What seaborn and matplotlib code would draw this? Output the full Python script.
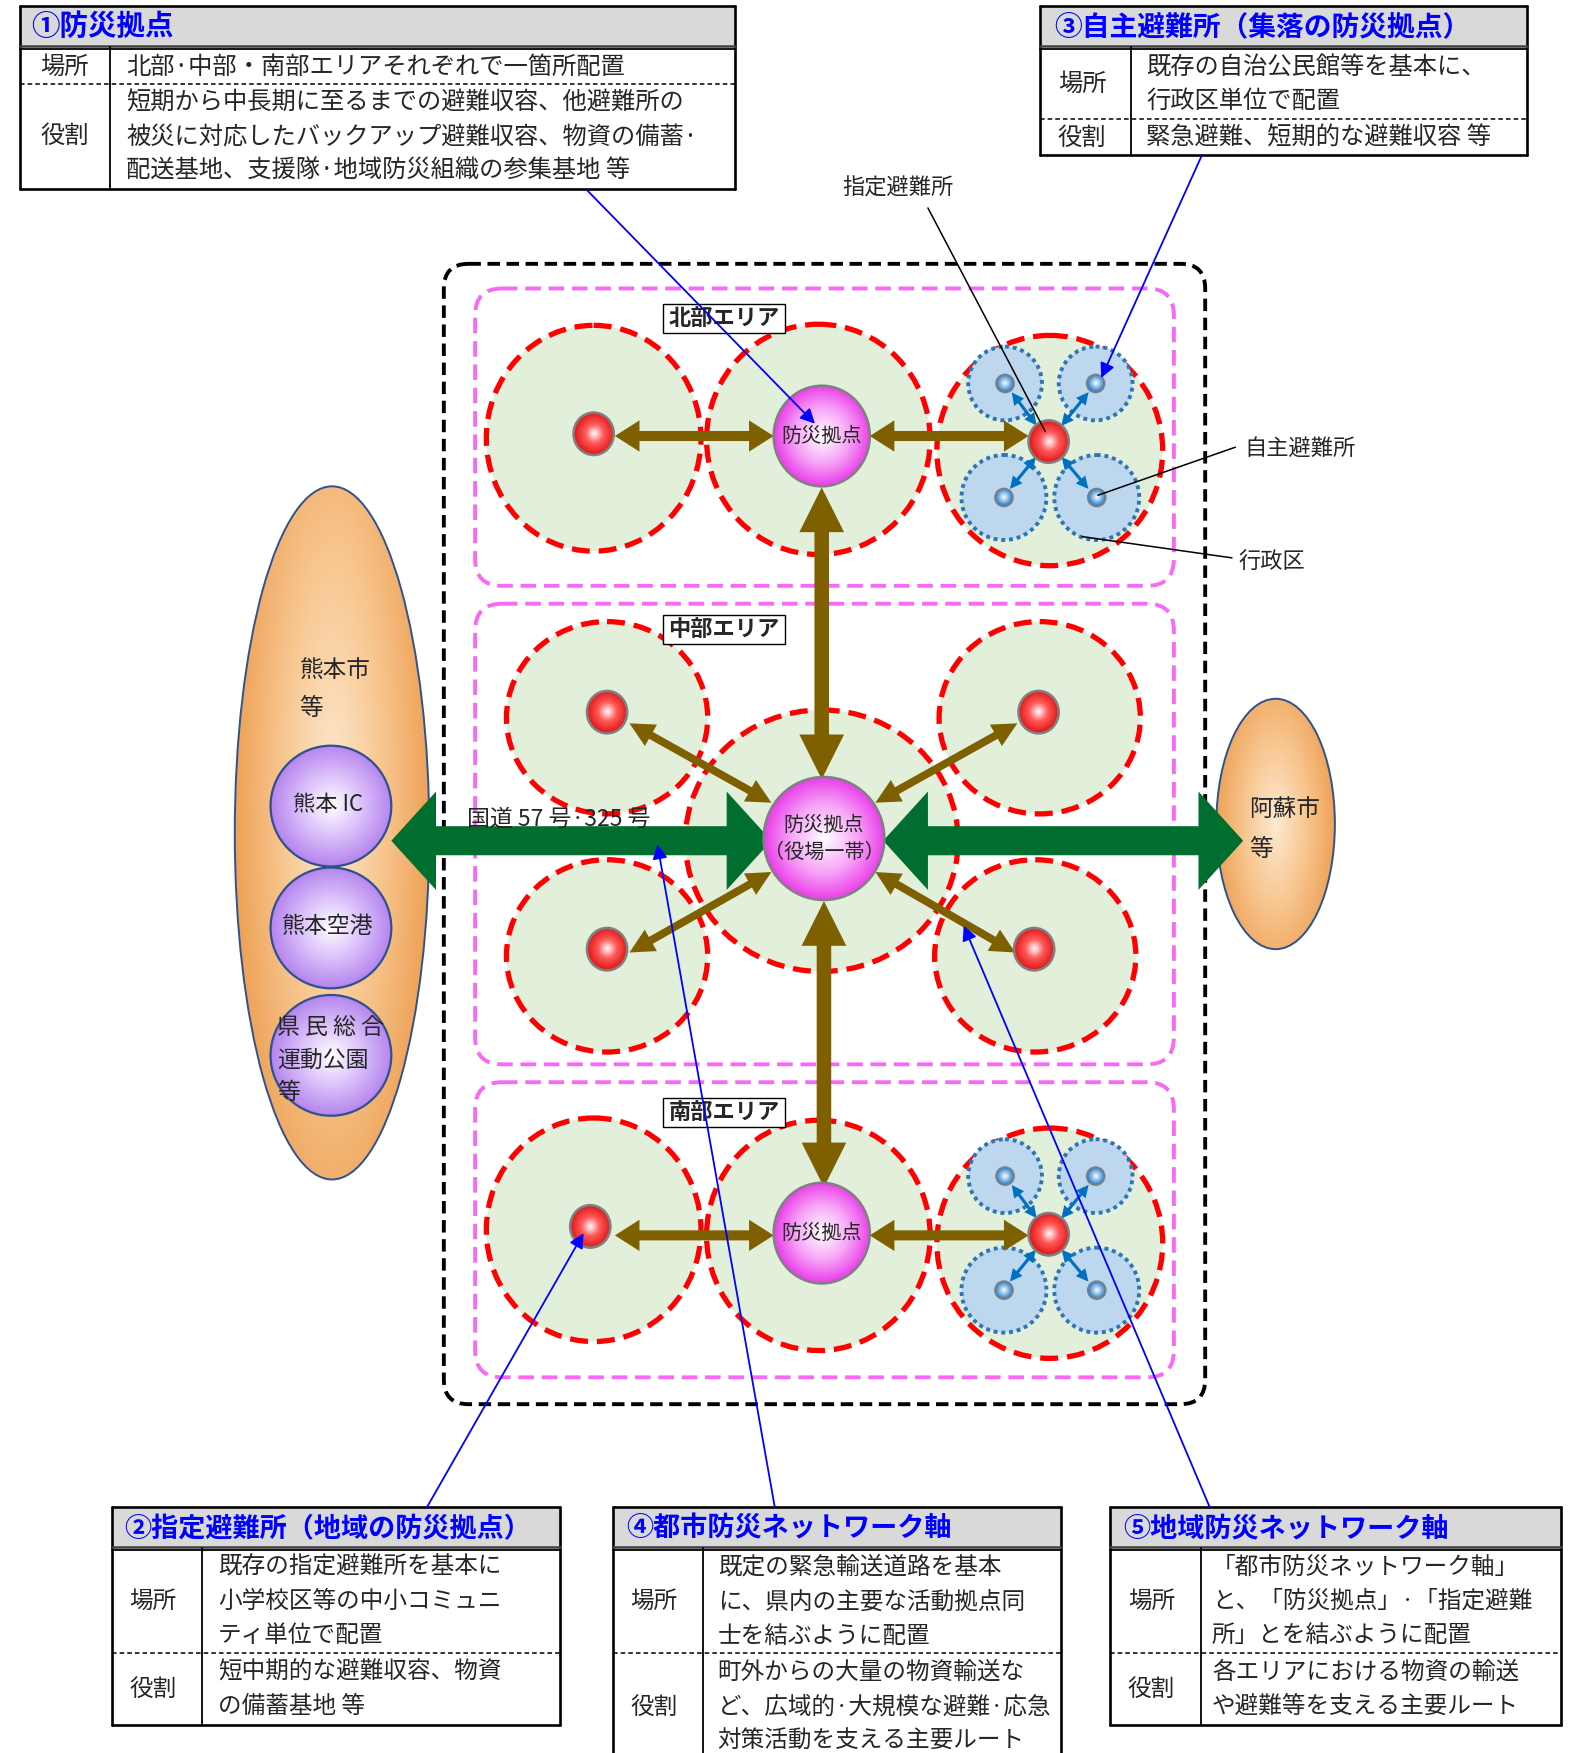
import numpy as np
import pandas as pd
import seaborn as sns
import matplotlib
matplotlib.use("Agg")
import matplotlib.pyplot as plt
from matplotlib.patches import Ellipse, Rectangle, FancyBboxPatch, Polygon
from matplotlib.colors import to_rgb

# ---------------- text content ----------------
t1_title = "①防災拠点"
t1_labels = ["場所", "役割"]
t1_place = ["北部·中部・南部エリアそれぞれで一箇所配置"]
t1_role = ["短期から中長期に至るまでの避難収容、他避難所の",
           "被災に対応したバックアップ避難収容、物資の備蓄·",
           "配送基地、支援隊·地域防災組織の参集基地 等"]
t3_title = "③自主避難所（集落の防災拠点）"
t3_place = ["既存の自治公民館等を基本に、", "行政区単位で配置"]
t3_role = ["緊急避難、短期的な避難収容 等"]
t2_title = "②指定避難所（地域の防災拠点）"
t2_place = ["既存の指定避難所を基本に", "小学校区等の中小コミュニ", "ティ単位で配置"]
t2_role = ["短中期的な避難収容、物資", "の備蓄基地 等"]
t4_title = "④都市防災ネットワーク軸"
t4_place = ["既定の緊急輸送道路を基本", "に、県内の主要な活動拠点同", "士を結ぶように配置"]
t4_role = ["町外からの大量の物資輸送な", "ど、広域的·大規模な避難·応急", "対策活動を支える主要ルート"]
t5_title = "⑤地域防災ネットワーク軸"
t5_place = ["「都市防災ネットワーク軸」", "と、「防災拠点」·「指定避難", "所」とを結ぶように配置"]
t5_role = ["各エリアにおける物資の輸送", "や避難等を支える主要ルート"]
area_names = ["北部エリア", "中部エリア", "南部エリア"]
hub_label = "防災拠点"
hub_center_label = ["防災拠点", "（役場一帯）"]
left_city = ["熊本市", "等"]
left_sites = ["熊本 IC", "熊本空港", "県 民 総 合\n運動公園\n等"]
right_city = ["阿蘇市", "等"]
road_label = "国道 57 号·325 号"
callouts = ["指定避難所", "自主避難所", "行政区"]

sns.set_theme(style="white")
plt.rcParams["font.family"] = ["Noto Sans CJK JP", "DejaVu Sans"]

W, H = 1407, 1568
fig = plt.figure(figsize=(15.73, 17.53), dpi=100)
ax = fig.add_axes([0, 0, 1, 1])
ax.axis("off")


def grad(cx, cy, rx, ry, stops, cols, ec, lw, z, hy=0.0, sy=1.0):
    n = 160
    xs = np.linspace(-1, 1, n)
    X, Y = np.meshgrid(xs, xs)
    R = np.clip(np.sqrt(X ** 2 + (sy * (Y - hy)) ** 2), 0, 1)
    rgb = np.array([to_rgb(c) for c in cols])
    img = np.stack([np.interp(R, stops, rgb[:, k]) for k in range(3)], axis=-1)
    im = ax.imshow(img, extent=(cx - rx, cx + rx, cy + ry, cy - ry), origin="upper",
                   zorder=z, aspect="auto", interpolation="bilinear")
    e = Ellipse((cx, cy), 2 * rx, 2 * ry, fc="none", ec=ec, lw=lw, zorder=z + 0.01)
    ax.add_patch(e)
    im.set_clip_path(e)


def red_ball(cx, cy, rx=18, ry=19, z=7):
    grad(cx, cy, rx, ry, [0, 0.45, 1], ["#ffffff", "#ff5a5a", "#e01515"], "#808080", 1.8, z)


def pink_ball(cx, cy, rx, ry, z=7):
    grad(cx, cy, rx, ry, [0, 0.55, 1], ["#ffffff", "#f7a6f7", "#ea3fea"], "#808080", 1.8, z)


def blue_ball(cx, cy, r=8, z=7):
    grad(cx, cy, r, r, [0, 1], ["#ffffff", "#1f78c8"], "#7f7f7f", 1.3, z)


def arrow(p0, p1, w, hw, hl, color, z, double=True):
    p0, p1 = np.array(p0, float), np.array(p1, float)
    d = p1 - p0
    L = np.hypot(*d)
    u = d / L
    nr = np.array([-u[1], u[0]])
    b1 = p1 - u * hl
    if double:
        b0 = p0 + u * hl
        pts = [p0, b0 + nr * hw / 2, b0 + nr * w / 2, b1 + nr * w / 2, b1 + nr * hw / 2, p1,
               b1 - nr * hw / 2, b1 - nr * w / 2, b0 - nr * w / 2, b0 - nr * hw / 2]
    else:
        pts = [p0 + nr * w / 2, b1 + nr * w / 2, b1 + nr * hw / 2, p1, b1 - nr * hw / 2,
               b1 - nr * w / 2, p0 - nr * w / 2]
    ax.add_patch(Polygon(pts, closed=True, fc=color, ec="none", zorder=z))


GREEN_FILL = "#e2efda"
RED = "#ff0000"
PINK = "#f66af6"
BROWN = "#7f6000"
DGREEN = "#006e2e"
BLUE_FILL = "#bdd7ee"
BLUE_EDGE = "#2e75b6"
ARROW_BLUE = "#0070c0"

# ---------------- outer frames ----------------
ax.add_patch(FancyBboxPatch((397, 236), 681, 1020, boxstyle="round,pad=0,rounding_size=22",
                            fc="none", ec="black", lw=2.8, ls=(0, (3.2, 1.7)), zorder=1))
for (y0, y1) in [(258, 524), (540, 952), (968, 1232)]:
    ax.add_patch(FancyBboxPatch((425, y0), 625, y1 - y0, boxstyle="round,pad=0,rounding_size=24",
                                fc="none", ec=PINK, lw=2.8, ls=(0, (4, 2)), zorder=1.5))

# ---------------- green service circles ----------------
circles = [(531, 392, 96, 101), (732, 393, 100, 103), (939, 403, 101, 103),
           (543, 642, 90, 86), (930, 642, 90, 86), (735, 752, 122, 117),
           (543, 855, 90, 86), (926, 855, 90, 86),
           (531, 1100, 96, 100), (732, 1105, 100, 103), (939, 1112, 101, 103)]
for cx, cy, rx, ry in circles:
    ax.add_patch(Ellipse((cx, cy), 2 * rx, 2 * ry, fc=GREEN_FILL, ec="none", zorder=2))
for cx, cy, rx, ry in circles:
    ax.add_patch(Ellipse((cx, cy), 2 * rx, 2 * ry, fc="none", ec=RED, lw=3.8,
                         ls=(0, (3.4, 1.7)), zorder=3))

# ---------------- village (行政区) circles ----------------
for base_y in [403, 1112]:
    dy = base_y - 403
    for (bx, by, r) in [(899, 343, 33), (980, 343, 33), (898, 445, 38), (981, 445, 38)]:
        ax.add_patch(Ellipse((bx, by + dy), 2 * r, 2 * r, fc=BLUE_FILL, ec=BLUE_EDGE, lw=2.8,
                             ls=(0, (1, 1)), zorder=4))
        blue_ball(bx, by + dy)
    rx0, ry0 = 938, 395 + dy
    for (bx, by) in [(899, 343), (980, 343), (897, 445), (980, 445)]:
        p_from = np.array([rx0, ry0], float)
        p_to = np.array([bx, by + dy], float)
        v = p_to - p_from
        v = v / np.hypot(*v)
        arrow(p_from + v * 18, p_to - v * 10, 2.8, 11, 11, ARROW_BLUE, 5.5)
    red_ball(rx0, ry0)

# ---------------- brown arrows ----------------
for y in [390, 1105]:
    arrow((550, y), (692, y), 9, 28, 22, BROWN, 5)
    arrow((778, y), (920, y), 9, 28, 22, BROWN, 5)
arrow((735, 436), (735, 697), 13, 40, 40, BROWN, 5)
arrow((737, 806), (737, 1062), 13, 40, 40, BROWN, 5)
for p0, p1 in [((690, 718), (563, 647)), ((783, 718), (910, 647)),
               ((690, 780), (563, 852)), ((783, 780), (908, 852))]:
    arrow(p0, p1, 7, 22, 22, BROWN, 5)

# ---------------- balls ----------------
red_ball(531, 388)
red_ball(528, 1097)
for (cx, cy) in [(543, 637), (929, 637), (543, 849), (925, 849)]:
    red_ball(cx, cy)
pink_ball(735, 390, 43, 45)
pink_ball(735, 1103, 43, 45)
pink_ball(737, 750, 54, 55)
ax.text(735, 390, hub_label, ha="center", va="center", fontsize=14.5, zorder=9)
ax.text(735, 1103, hub_label, ha="center", va="center", fontsize=14.5, zorder=9)
ax.text(737, 738, hub_center_label[0], ha="center", va="center", fontsize=14.5, zorder=9)
ax.text(737, 762, hub_center_label[1], ha="center", va="center", fontsize=14.5, zorder=9)

# ---------------- left / right cities ----------------
grad(297, 745, 87, 310, [0, 0.5, 1], ["#fde9d2", "#f8c892", "#eea257"], "#2f528f", 1.4, 1.2,
     hy=-0.1, sy=0.75)
grad(1141, 737, 53, 112, [0, 0.5, 1], ["#fde9d2", "#f8c892", "#eea257"], "#2f528f", 1.4, 1.2,
     sy=0.8)
ax.text(268, 600, left_city[0], ha="left", va="center", fontsize=17, zorder=9)
ax.text(268, 634, left_city[1], ha="left", va="center", fontsize=17, zorder=9)
ax.text(1117, 724, right_city[0], ha="left", va="center", fontsize=17, zorder=9)
ax.text(1117, 760, right_city[1], ha="left", va="center", fontsize=17, zorder=9)
for (cy, lab) in zip([721, 830, 944], left_sites):
    grad(296, cy, 54, 54, [0, 0.5, 1], ["#ffffff", "#dcc2fa", "#b585ee"], "#2f528f", 1.6, 6)
ax.text(293, 720, left_sites[0], ha="center", va="center", fontsize=16, zorder=9)
ax.text(293, 829, left_sites[1], ha="center", va="center", fontsize=16.5, zorder=9)
for i, line in enumerate(left_sites[2].split("\n")):
    ax.text(248, 919 + 29 * i, line, ha="left", va="center", fontsize=16.5, zorder=9)

# ---------------- green road arrows ----------------
arrow((350, 752), (690, 752), 26, 88, 40, DGREEN, 6.5)
arrow((790, 752), (1112, 752), 26, 88, 40, DGREEN, 6.5)
ax.text(418, 733, road_label, ha="left", va="center", fontsize=16.5, zorder=9)

# ---------------- area labels ----------------
for name, y in zip(area_names, [285, 563, 995]):
    ax.add_patch(Rectangle((593, y - 13), 109, 26, fc="white", ec="black", lw=1.0, zorder=8))
    ax.text(647.5, y, name, ha="center", va="center", fontsize=16, fontweight="bold", zorder=9)

# ---------------- callout leaders ----------------
ax.text(803, 168, callouts[0], ha="center", va="center", fontsize=16, zorder=9)
ax.plot([830, 935], [186, 386], color="black", lw=1.1, zorder=9)
ax.text(1113, 401, callouts[1], ha="left", va="center", fontsize=16, zorder=9)
ax.plot([1105, 982], [400, 443], color="black", lw=1.1, zorder=9)
ax.text(1108, 503, callouts[2], ha="left", va="center", fontsize=16, zorder=9)
ax.plot([1102, 968], [499, 480], color="black", lw=1.1, zorder=9)

# ---------------- blue annotation arrows ----------------
for (p0, p1) in [((525, 170), (729, 379)), ((1075, 139), (985, 338)),
                 ((382, 1348), (522, 1103)), ((693, 1348), (588, 755)),
                 ((1082, 1348), (862, 828))]:
    ax.annotate("", xy=p1, xytext=p0,
                arrowprops=dict(arrowstyle="-|>", color="#0000ff", lw=1.3,
                                mutation_scale=22, shrinkA=0, shrinkB=0),
                zorder=10)


# ---------------- tables ----------------
def draw_table(x0, x1, y0, yt, ysep, y1, xc, xtitle, title, xlab, rows, xtxt, fs, tfs, lh):
    ybot = y1 if y1 is not None else H + 10
    ax.add_patch(Rectangle((x0, y0), x1 - x0, yt - y0, fc="#d9d9d9", ec="none", zorder=4))
    lw = 1.9
    ax.plot([x0, x1], [y0, y0], color="black", lw=lw, zorder=5)
    ax.plot([x0, x0], [y0, ybot], color="black", lw=lw, zorder=5)
    ax.plot([x1, x1], [y0, ybot], color="black", lw=lw, zorder=5)
    if y1 is not None:
        ax.plot([x0, x1], [y1, y1], color="black", lw=lw, zorder=5)
    ax.plot([x0, x1], [yt - 1.2, yt - 1.2], color="#404040", lw=1.8, zorder=5)
    ax.plot([x0, x1], [yt + 1.8, yt + 1.8], color="black", lw=1.3, zorder=5)
    ax.plot([xc, xc], [yt, ybot], color="black", lw=1.3, zorder=5)
    ax.plot([x0, x1], [ysep, ysep], color="black", lw=1.1, ls=(0, (3, 2)), zorder=5)
    ax.text(xtitle, (y0 + yt) / 2 + 1, title, ha="left", va="center", fontsize=tfs,
            fontweight="bold", color="#0000ff", zorder=6)
    for (lab, ylab, lines, ystart) in rows:
        ax.text(xlab, ylab, lab, ha="center", va="center", fontsize=fs, zorder=6)
        for i, line in enumerate(lines):
            ax.text(xtxt, ystart + lh * i, line, ha="left", va="center", fontsize=fs, zorder=6)


draw_table(18, 657, 5, 42, 75, 169, 98, 28, t1_title, 58,
           [(t1_labels[0], 60, t1_place, 60), (t1_labels[1], 122, t1_role, 92)],
           113, 17.5, 20.5, 30.5)
draw_table(930, 1366, 5, 42, 106, 139, 1012, 943, t3_title, 968,
           [(t1_labels[0], 75, t3_place, 60), (t1_labels[1], 123, t3_role, 123)],
           1025, 17.5, 20, 30)
draw_table(100, 501, 1348, 1385, 1479, 1543, 181, 111, t2_title, 137,
           [(t1_labels[0], 1432, t2_place, 1402), (t1_labels[1], 1511, t2_role, 1496)],
           195, 17, 19.5, 30.5)
draw_table(548, 949, 1348, 1385, 1479, None, 629, 560, t4_title, 585,
           [(t1_labels[0], 1432, t4_place, 1402), (t1_labels[1], 1527, t4_role, 1496)],
           642, 17, 19.5, 30.8)
draw_table(993, 1396, 1348, 1385, 1479, 1543, 1074, 1005, t5_title, 1030,
           [(t1_labels[0], 1432, t5_place, 1402), (t1_labels[1], 1511, t5_role, 1496)],
           1084, 17, 19.5, 30.5)

ax.set_xlim(0, W)
ax.set_ylim(H, 0)
fig.savefig("out.png", dpi=100)
